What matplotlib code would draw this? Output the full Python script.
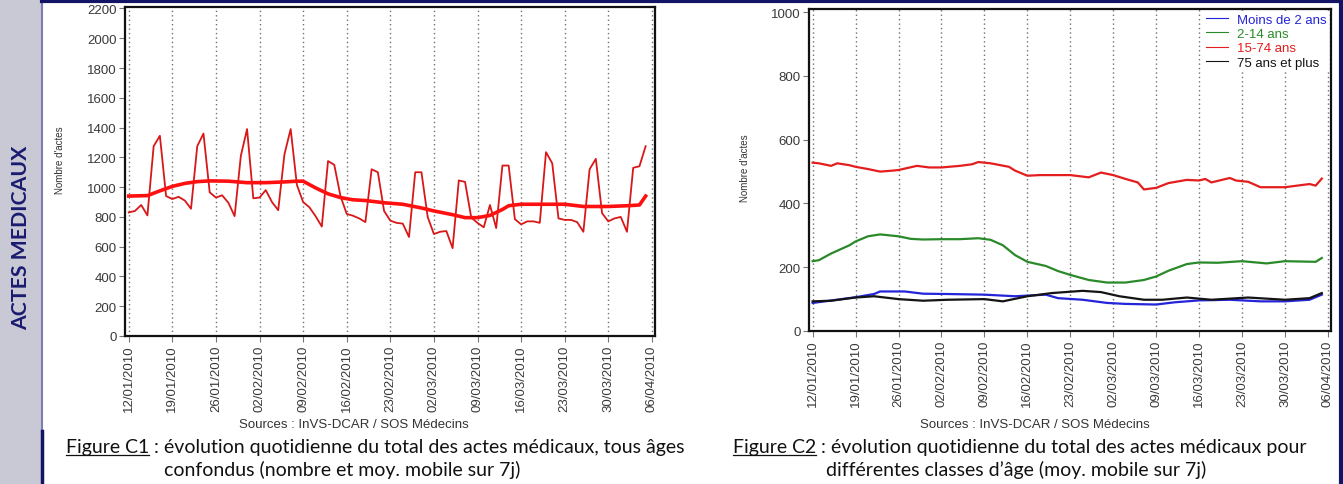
import matplotlib
matplotlib.use("Agg")
import matplotlib.pyplot as plt
import matplotlib.dates as mdates
from matplotlib.lines import Line2D
from matplotlib.patches import Rectangle
import pandas as pd

# ---- data ----
start = pd.Timestamp("2010-01-12")

# daily total of medical acts, 12/01/2010 -> 05/04/2010
daily_counts = [
    830, 840, 880, 810, 1275, 1345, 940,
    920, 935, 910, 855, 1275, 1360, 965,
    930, 945, 895, 805, 1210, 1390, 925,
    930, 980, 900, 845, 1220, 1390, 1015,
    900, 865, 805, 735, 1175, 1150, 940,
    820, 808, 790, 765, 1120, 1100, 840,
    775, 760, 755, 665, 1100, 1100, 800,
    685, 700, 705, 590, 1045, 1035, 795,
    760, 730, 880, 725, 1145, 1145, 785,
    750, 770, 770, 760, 1235, 1160, 790,
    780, 780, 765, 700, 1120, 1190, 825,
    770, 790, 800, 700, 1130, 1140, 1275,
]

# 7-day moving average (day offset, value)
ma_days = [0, 3, 5, 7, 9, 11, 13, 16, 19, 22, 25, 27, 28, 30, 32, 34, 36, 38,
           41, 44, 47, 49, 52, 54, 56, 58, 60, 61, 63, 66, 70, 73, 77, 80, 82, 83]
ma_values = [940, 943, 975, 1005, 1025, 1037, 1042, 1040, 1030, 1030, 1035, 1040,
             1040, 995, 955, 930, 915, 910, 895, 885, 860, 840, 815, 795, 795, 810,
             850, 875, 885, 885, 885, 870, 870, 875, 880, 940]

# age classes, moving average (day offset, value)
lt2_days = [0, 2, 7, 10, 11, 15, 18, 22, 28, 33, 38, 40, 44, 48, 51, 56, 59, 63, 68, 73, 77, 81, 83]
lt2_values = [88, 93, 106, 116, 124, 124, 117, 116, 114, 109, 114, 103, 98, 88, 85, 83,
              90, 96, 98, 93, 93, 98, 114]

a2_14_days = [0, 1, 3, 6, 7, 9, 11, 14, 16, 18, 21, 24, 27, 29, 31, 33, 35, 38, 40,
              42, 45, 48, 51, 54, 56, 58, 61, 63, 66, 70, 74, 77, 82, 83]
a2_14_values = [219, 222, 243, 269, 281, 297, 303, 297, 289, 287, 288, 288, 291, 286,
                269, 238, 217, 204, 188, 176, 160, 152, 152, 160, 171, 189, 210, 215,
                214, 219, 212, 219, 217, 229]

a15_74_days = [0, 1, 3, 4, 6, 7, 9, 11, 13, 14, 17, 19, 21, 24, 26, 27, 29, 32, 33,
               35, 37, 40, 42, 45, 47, 49, 51, 53, 54, 56, 58, 61, 63, 64, 65, 68,
               69, 71, 73, 77, 81, 82, 83]
a15_74_values = [528, 526, 518, 526, 520, 515, 508, 500, 503, 505, 518, 513, 513, 518,
                 523, 530, 526, 515, 503, 487, 489, 489, 489, 482, 497, 489, 477, 466,
                 444, 449, 464, 474, 472, 477, 466, 480, 472, 468, 451, 451, 461, 456, 478]

a75_days = [0, 3, 7, 10, 14, 18, 22, 28, 31, 35, 39, 44, 47, 50, 54, 57, 61, 65, 71, 77, 81, 83]
a75_values = [93, 95, 105, 109, 100, 95, 98, 100, 93, 109, 119, 126, 122, 109, 98, 98,
              105, 98, 105, 98, 103, 119]

age_series = [
    ("Moins de 2 ans", lt2_days, lt2_values, "#2424d8"),
    ("2-14 ans", a2_14_days, a2_14_values, "#2a8a2a"),
    ("15-74 ans", a15_74_days, a15_74_values, "#e41e1e"),
    ("75 ans et plus", a75_days, a75_values, "#141414"),
]

week_ticks = pd.date_range("2010-01-12", "2010-04-06", freq="7D")

W, H = 1343, 485
NARROW = ["Lato", "DejaVu Sans"]
plt.rcParams["font.family"] = ["Liberation Sans", "DejaVu Sans"]


def days_to_dates(days):
    return start + pd.to_timedelta(days, unit="D")


def box(left, top, right, bottom):
    return [left / W, 1 - bottom / H, (right - left) / W, (bottom - top) / H]


def style_axis(ax, ymax, ystep):
    ax.set_xlim(start - pd.Timedelta(days=0.6), start + pd.Timedelta(days=84.5))
    ax.set_ylim(0, ymax)
    ax.set_yticks(range(0, int(ymax) + 1, ystep))
    ax.set_xticks(week_ticks)
    ax.xaxis.set_major_formatter(mdates.DateFormatter("%d/%m/%Y"))
    for lab in ax.get_xticklabels():
        lab.set_rotation(90)
    ax.tick_params(axis="both", labelsize=9.5, labelcolor="#3a3a3a", color="#777777",
                   length=4, width=0.8, pad=2)
    for sp in ax.spines.values():
        sp.set_linewidth(1.6)
        sp.set_color("#111111")
    for t in week_ticks:
        ax.axvline(t, color="#707070", lw=1.0, ls=(0, (1, 2.2)), zorder=0)


fig = plt.figure(figsize=(W / 100, H / 100), dpi=100)
fig.patch.set_facecolor("white")

# frame / side band
fig.add_artist(Rectangle((0, 0), 42 / W, 1, transform=fig.transFigure,
                         facecolor="#c9c9d6", edgecolor="none", zorder=0))
fig.add_artist(Line2D([42 / W, 42 / W], [1 - 432 / H, 1], transform=fig.transFigure,
                      color="#7d7db4", lw=1.5))
fig.add_artist(Line2D([42 / W, 42 / W], [0, 1 - 432 / H], transform=fig.transFigure,
                      color="#141466", lw=2.5))
fig.add_artist(Line2D([42 / W, 1], [1 - 1.5 / H, 1 - 1.5 / H], transform=fig.transFigure,
                      color="#141466", lw=3))
fig.add_artist(Line2D([1 - 2 / W, 1 - 2 / W], [0, 1], transform=fig.transFigure,
                      color="#141466", lw=3))

# left chart: total acts
ax1 = fig.add_axes(box(125, 8, 655, 337))
x_daily = days_to_dates(list(range(len(daily_counts))))
ax1.plot(x_daily, daily_counts, color="#d81818", lw=1.3, zorder=3)
ax1.plot(days_to_dates(ma_days), ma_values, color="#ff1010", lw=2.6, zorder=4)
style_axis(ax1, 2210, 200)

# right chart: age classes
ax2 = fig.add_axes(box(809, 10, 1331, 332))
for label, d, v, c in age_series:
    ax2.plot(days_to_dates(d), v, color=c, lw=1.6, label=label, zorder=3)
style_axis(ax2, 1010, 200)
leg = ax2.legend(loc="upper right", fontsize=9.5, frameon=True, handlelength=1.6,
                 handletextpad=0.7, labelspacing=0.15, borderaxespad=0.15,
                 borderpad=0.2, fancybox=False)
leg.get_frame().set_facecolor("white")
leg.get_frame().set_edgecolor("none")
leg.get_frame().set_alpha(1)
for txt, (_, _, _, c) in zip(leg.get_texts(), age_series):
    txt.set_color(c)
for h in leg.get_lines():
    h.set_linewidth(0.8)

# y labels
fig.text(60 / W, 1 - 160 / H, "Nombre d'actes", rotation=90, fontsize=7,
         color="#333333", ha="center", va="center")
fig.text(745 / W, 1 - 168 / H, "Nombre d'actes", rotation=90, fontsize=7,
         color="#333333", ha="center", va="center")

# sources
fig.text(354 / W, 1 - 425 / H, "Sources : InVS-DCAR / SOS Médecins", fontsize=9.5,
         color="#333333", ha="center", va="center")
fig.text(1035 / W, 1 - 425 / H, "Sources : InVS-DCAR / SOS Médecins", fontsize=9.5,
         color="#333333", ha="center", va="center")

fig.canvas.draw()
r = fig.canvas.get_renderer()


def fitted_size(text, target, weight="normal"):
    t = fig.text(0, 0, text, fontsize=10, family=NARROW, weight=weight)
    w = t.get_window_extent(r).width
    t.remove()
    return 10 * target / w


# side title
side = "ACTES MEDICAUX"
fig.text(21 / W, 1 - 238 / H, side, rotation=90, fontsize=fitted_size(side, 184, "bold"),
         family=NARROW, weight="bold", color="#1a1a70", ha="center", va="center")

cap1 = ["Figure C1", " : ", "évolution quotidienne du total des actes médicaux, tous âges"]
cap_fs = fitted_size("".join(cap1), 620)


def caption_line(x, y, pieces):
    # draws pieces side by side, underlines the first one; returns x of each piece
    xs = []
    for i, piece in enumerate(pieces):
        t = fig.text(x / W, 1 - y / H, piece, fontsize=cap_fs, family=NARROW,
                     color="#111111", ha="left", va="baseline")
        bb = t.get_window_extent(r)
        xs.append(x)
        if i == 0:
            fig.add_artist(Line2D([bb.x0 / W, bb.x1 / W], [(H - y - 2.5) / H] * 2,
                                  transform=fig.transFigure, color="#111111", lw=0.9))
        x = x + bb.width
    return xs


xs = caption_line(66, 453, cap1)
fig.text(xs[2] / W, 1 - 476 / H, "confondus (nombre et moy. mobile sur 7j)",
         fontsize=cap_fs, family=NARROW, color="#111111", ha="left", va="baseline")

cap2 = ["Figure C2", " : ", "évolution quotidienne du total des actes médicaux pour"]
t = fig.text(0, 0, "".join(cap2), fontsize=cap_fs, family=NARROW)
w2 = t.get_window_extent(r).width
t.remove()
caption_line(1020 - w2 / 2, 453, cap2)
fig.text(1016 / W, 1 - 476 / H, "différentes classes d’âge (moy. mobile sur 7j)",
         fontsize=cap_fs, family=NARROW, color="#111111", ha="center", va="baseline")

fig.savefig("out.png", dpi=100)
